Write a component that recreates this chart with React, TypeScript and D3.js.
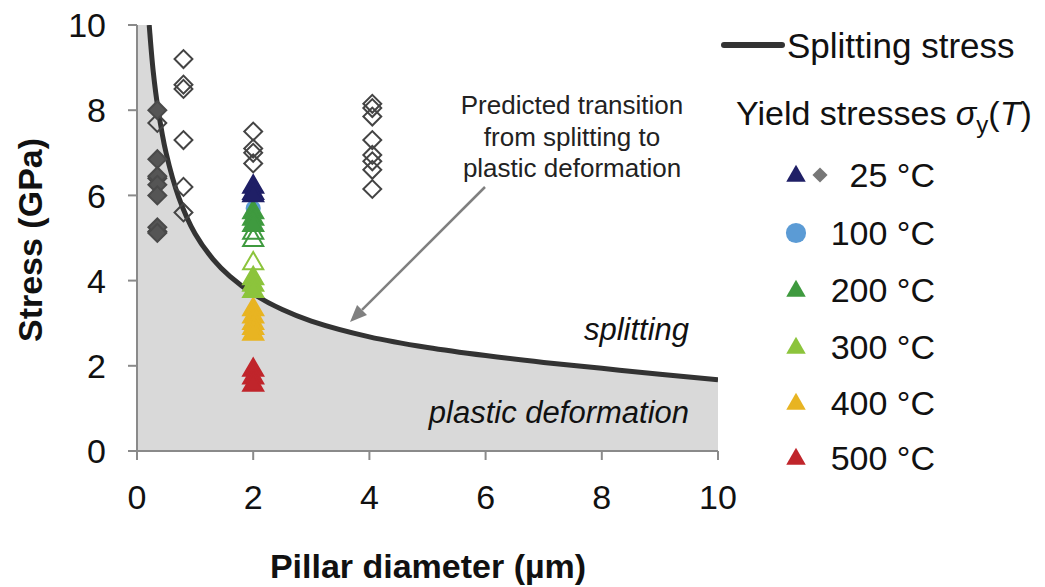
import React from "react";
import * as d3 from "d3";

// ---- data ----
const curveDiameter = [0.21, 0.28, 0.36, 0.5, 0.72, 1.0, 1.31, 1.6, 2, 2.5, 3, 4, 5, 6, 7, 8, 9, 10];
const curveStress = [10, 8.9, 8.05, 7.0, 5.95, 5.1, 4.5, 4.1, 3.69, 3.32, 3.05, 2.68, 2.43, 2.24, 2.08, 1.94, 1.8, 1.67];

const filledDiamonds25: [number, number][] = [
  [0.35, 8.0], [0.35, 6.85], [0.35, 6.45], [0.35, 6.25], [0.35, 6.0], [0.35, 5.25], [0.35, 5.12],
];
const openDiamonds25: [number, number][] = [
  [0.35, 7.7], [0.35, 6.4], [0.35, 5.15],
  [0.8, 9.2], [0.8, 8.6], [0.8, 8.5], [0.8, 7.3], [0.8, 6.2], [0.8, 5.6],
  [2, 7.5], [2, 7.1], [2, 7.0], [2, 6.75], [2, 6.1],
  [4.05, 8.15], [4.05, 8.05], [4.05, 7.85], [4.05, 7.3], [4.05, 6.95], [4.05, 6.8], [4.05, 6.6], [4.05, 6.15],
];
const tri25Filled: [number, number][] = [[2, 6.2], [2, 6.0]];
const tri25Open: [number, number][] = [[2, 6.05]];
const circles100: [number, number][] = [[2, 5.7], [2, 5.55]];
const tri200Filled: [number, number][] = [[2, 5.6], [2, 5.45], [2, 5.3]];
const tri200Open: [number, number][] = [[2, 5.12], [2, 4.95]];
const tri300Open: [number, number][] = [[2, 4.4]];
const tri300Filled: [number, number][] = [[2, 4.05], [2, 3.9], [2, 3.75]];
const tri400Filled: [number, number][] = [[2, 3.32], [2, 3.15], [2, 3.0], [2, 2.88], [2, 2.75]];
const tri500Filled: [number, number][] = [[2, 1.9], [2, 1.72], [2, 1.55]];

const xTicks = [0, 2, 4, 6, 8, 10];
const yTicks = [0, 2, 4, 6, 8, 10];
const legendTemps = ["25 °C", "100 °C", "200 °C", "300 °C", "400 °C", "500 °C"];
const legendColors = ["#1f1f66", "#5b9bd5", "#3f9a3f", "#8cc43c", "#e8b422", "#c0252b"];
const annotationLines = ["Predicted transition", "from splitting to", "plastic deformation"];

const FONT = "'Liberation Sans', Arial, Helvetica, sans-serif";

export default function App() {
  const x = d3.scaleLinear().domain([0, 10]).range([137, 718]);
  const y = d3.scaleLinear().domain([0, 10]).range([451, 25]);

  const curvePts: [number, number][] = curveDiameter.map((d, i) => [d, curveStress[i]]);
  const line = d3
    .line<[number, number]>()
    .x((p) => x(p[0]))
    .y((p) => y(p[1]))
    .curve(d3.curveCatmullRom.alpha(0.5));
  const areaPts: [number, number][] = [[0, 10], ...curvePts];
  const area = d3
    .area<[number, number]>()
    .x((p) => x(p[0]))
    .y0(y(0))
    .y1((p) => y(p[1]))
    .curve(d3.curveCatmullRom.alpha(0.5));

  const tri = d3.symbol().type(d3.symbolTriangle).size(175)()!;
  const triLeg = d3.symbol().type(d3.symbolTriangle).size(165)()!;
  const sq = d3.symbol().type(d3.symbolSquare).size(160)()!;
  const sqLeg = d3.symbol().type(d3.symbolSquare).size(115)()!;
  const circ = d3.symbol().type(d3.symbolCircle).size(180)()!;
  const circLeg = d3.symbol().type(d3.symbolCircle).size(320)()!;

  const diamond = (pts: [number, number][], filled: boolean, key: string) =>
    pts.map((p, i) => (
      <path
        key={key + i}
        d={sq}
        transform={`translate(${x(p[0])},${y(p[1])}) rotate(45)`}
        fill={filled ? "#555" : "none"}
        stroke={filled ? "#4a4a4a" : "#444"}
        strokeWidth={2}
      />
    ));
  const triangles = (pts: [number, number][], color: string, filled: boolean, key: string) =>
    pts.map((p, i) => (
      <path
        key={key + i}
        d={tri}
        transform={`translate(${x(p[0])},${y(p[1])})`}
        fill={filled ? color : "white"}
        fillOpacity={filled ? 1 : 0}
        stroke={color}
        strokeWidth={2}
      />
    ));

  const legendRowY = [175, 233, 290, 347, 403, 458];

  // arrow
  const ax1 = 485, ay1 = 187, ax2 = 350, ay2 = 322;
  const ang = Math.atan2(ay2 - ay1, ax2 - ax1);
  const ah = 17, aw = 7;
  const bx = ax2 - ah * Math.cos(ang), by = ay2 - ah * Math.sin(ang);
  const arrowHead = `M${ax2},${ay2} L${bx + aw * Math.sin(ang)},${by - aw * Math.cos(ang)} L${bx - aw * Math.sin(ang)},${by + aw * Math.cos(ang)} Z`;

  return (
    <svg
      width={1045}
      height={587}
      style={{ position: "absolute", left: 0, top: 0, background: "white" }}
      fontFamily={FONT}
    >
      <defs>
        <clipPath id="plotclip">
          <rect x={x(0)} y={y(10)} width={x(10) - x(0)} height={y(0) - y(10)} />
        </clipPath>
      </defs>
      {/* grey region */}
      <path d={area(areaPts)!} fill="#d9d9d9" clipPath="url(#plotclip)" />

      {/* axes */}
      <line x1={x(0)} x2={x(0)} y1={y(10)} y2={y(0)} stroke="#8a8a8a" strokeWidth={2} />
      <line x1={x(0) - 9} x2={x(10)} y1={y(0)} y2={y(0)} stroke="#8a8a8a" strokeWidth={2} />
      {yTicks.map((t) => (
        <g key={"yt" + t}>
          <line x1={x(0) - 9} x2={x(0)} y1={y(t)} y2={y(t)} stroke="#8a8a8a" strokeWidth={2} />
          <text x={106} y={y(t)} dy="0.36em" textAnchor="end" fontSize={34} fill="#111">
            {t}
          </text>
        </g>
      ))}
      {xTicks.map((t) => (
        <g key={"xt" + t}>
          <line x1={x(t)} x2={x(t)} y1={y(0)} y2={y(0) + 9} stroke="#8a8a8a" strokeWidth={2} />
          <text x={x(t)} y={497} dy="0.36em" textAnchor="middle" fontSize={34} fill="#111">
            {t}
          </text>
        </g>
      ))}
      <text x={428} y={566} dy="0.36em" textAnchor="middle" fontSize={34} fontWeight="bold" fill="#111">
        Pillar diameter (µm)
      </text>
      <text
        transform="translate(30,240) rotate(-90)"
        dy="0.36em"
        textAnchor="middle"
        fontSize={34}
        fontWeight="bold"
        fill="#111"
      >
        Stress (GPa)
      </text>

      {/* curve */}
      <path d={line(curvePts)!} fill="none" stroke="#333" strokeWidth={5} clipPath="url(#plotclip)" />

      {/* markers */}
      {diamond(openDiamonds25, false, "od")}
      {diamond(filledDiamonds25, true, "fd")}
      {triangles(tri500Filled, legendColors[5], true, "t5")}
      {triangles(tri400Filled, legendColors[4], true, "t4")}
      {triangles(tri300Filled, legendColors[3], true, "t3f")}
      {triangles(tri300Open, legendColors[3], false, "t3o")}
      {triangles(tri200Open, legendColors[2], false, "t2o")}
      {circles100.map((p, i) => (
        <path key={"c" + i} d={circ} transform={`translate(${x(p[0])},${y(p[1])})`} fill={legendColors[1]} />
      ))}
      {triangles(tri200Filled, legendColors[2], true, "t2f")}
      {triangles(tri25Open, legendColors[0], false, "t0o")}
      {triangles(tri25Filled, legendColors[0], true, "t0f")}

      {/* annotations */}
      {annotationLines.map((l, i) => (
        <text key={"an" + i} x={572} y={105 + i * 31.5} dy="0.36em" textAnchor="middle" fontSize={26} fill="#222">
          {l}
        </text>
      ))}
      <line x1={ax1} y1={ay1} x2={bx} y2={by} stroke="#808080" strokeWidth={2.5} />
      <path d={arrowHead} fill="#808080" />
      <text x={689} y={329} dy="0.36em" textAnchor="end" fontSize={31} fontStyle="italic" fill="#111">
        splitting
      </text>
      <text x={689} y={412} dy="0.36em" textAnchor="end" fontSize={31} fontStyle="italic" fill="#111">
        plastic deformation
      </text>

      {/* legend */}
      <line x1={724} x2={782} y1={45} y2={45} stroke="#333" strokeWidth={6} strokeLinecap="round" />
      <text x={787} y={45} dy="0.36em" fontSize={35} fill="#111">
        Splitting stress
      </text>
      <text x={736} y={113} dy="0.36em" fontSize={34} fill="#111">
        Yield stresses{" "}
        <tspan fontStyle="italic">σ</tspan>
        <tspan fontSize={24} dy={8}>y</tspan>
        <tspan dy={-8}>(</tspan>
        <tspan fontStyle="italic">T</tspan>
        <tspan>)</tspan>
      </text>
      {legendTemps.map((lab, i) => (
        <g key={"lg" + i}>
          {i === 1 ? (
            <path d={circLeg} transform={`translate(796,${legendRowY[i]})`} fill={legendColors[i]} />
          ) : (
            <path d={triLeg} transform={`translate(796,${legendRowY[i] + 1})`} fill={legendColors[i]} />
          )}
          {i === 0 && (
            <path d={sqLeg} transform={`translate(820,${legendRowY[i]}) rotate(45)`} fill="#777" />
          )}
          <text x={935} y={legendRowY[i]} dy="0.36em" textAnchor="end" fontSize={34} fill="#111">
            {lab}
          </text>
        </g>
      ))}
    </svg>
  );
}
